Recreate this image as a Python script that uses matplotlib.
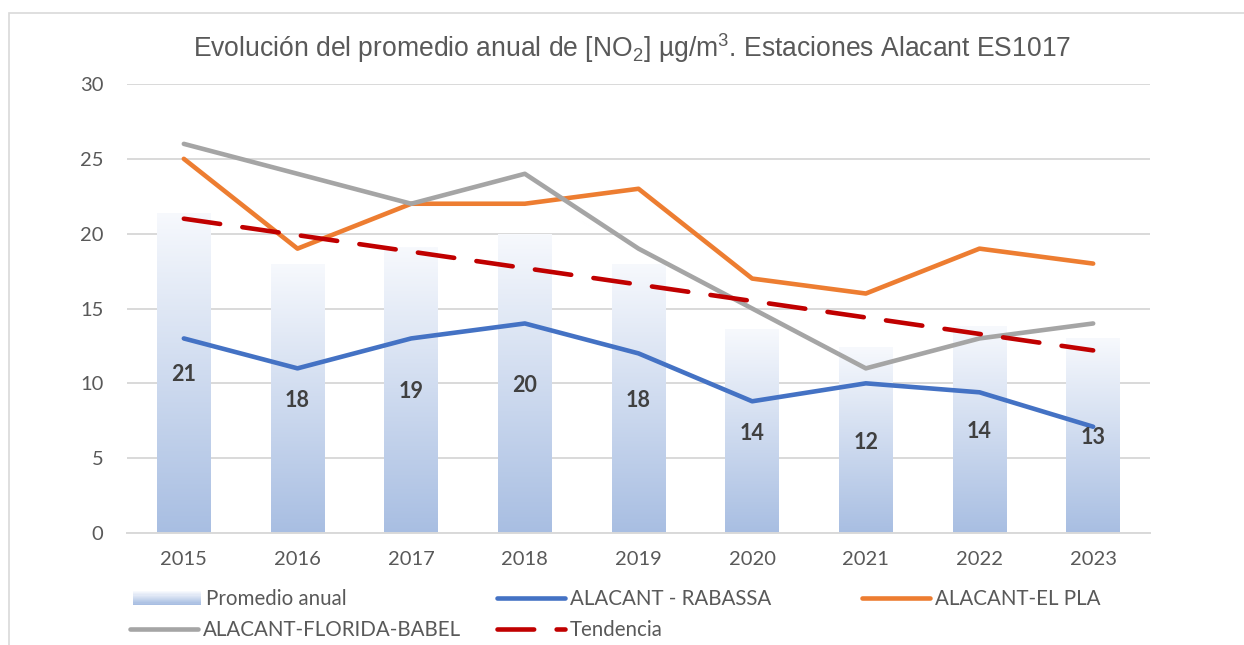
import numpy as np
import matplotlib
matplotlib.use("Agg")
import matplotlib.pyplot as plt
from matplotlib.patches import Rectangle
from matplotlib.lines import Line2D
from matplotlib.legend_handler import HandlerBase
from matplotlib.colors import LinearSegmentedColormap

years = ["2015", "2016", "2017", "2018", "2019", "2020", "2021", "2022", "2023"]
promedio = [21.4, 18.0, 19.1, 20.0, 18.0, 13.6, 12.4, 13.8, 13.0]
promedio_labels = ["21", "18", "19", "20", "18", "14", "12", "14", "13"]
rabassa = [13, 11, 13, 14, 12, 8.8, 10, 9.4, 7.1]
el_pla = [25, 19, 22, 22, 23, 17, 16, 19, 18]
florida = [26, 24, 22, 24, 19, 15, 11, 13, 14]
tendencia = [21.0, 19.9, 18.8, 17.7, 16.6, 15.5, 14.4, 13.3, 12.2]

TOP_C = "#F7F9FD"
BOT_C = "#A8BEE2"
cmap = LinearSegmentedColormap.from_list("g", [BOT_C, TOP_C])
TXT = "#595959"

plt.rcParams['mathtext.fontset'] = 'custom'
plt.rcParams['mathtext.rm'] = 'Liberation Sans'
plt.rcParams['mathtext.it'] = 'Liberation Sans'

fig = plt.figure(figsize=(12.44, 6.45), dpi=100)
# chart frame
fig.add_artist(Rectangle((9/1244, -0.1), 1.2, 1 - 13/645 + 0.1, transform=fig.transFigure,
                         fill=False, edgecolor="#D9D9D9", lw=1.2))
ax = fig.add_axes([127/1244, 1 - 533/645, (1150 - 127)/1244, (533 - 84)/645])

x = np.arange(len(years))
bars = ax.bar(x, promedio, width=0.47, facecolor="none", edgecolor="none", zorder=1)
grad = np.linspace(0, 1, 256).reshape(-1, 1)
for b in bars:
    x0, y0 = b.get_x(), b.get_y()
    w, h = b.get_width(), b.get_height()
    im = ax.imshow(grad, extent=[x0, x0 + w, y0, y0 + h], origin="lower", cmap=cmap,
                   aspect="auto", zorder=1, interpolation="bilinear")
    im.set_clip_path(b)
for xi, v, lab in zip(x, promedio, promedio_labels):
    ax.text(xi, v / 2 - 0.12, lab, ha="center", va="center", fontsize=15.5, fontweight="bold",
            color="#404040", family="Lato", zorder=5)

lw = 3.3
ax.plot(x, rabassa, color="#4472C4", lw=lw, solid_capstyle="round", solid_joinstyle="round", zorder=3)
ax.plot(x, el_pla, color="#ED7D31", lw=lw, solid_capstyle="round", solid_joinstyle="round", zorder=3)
ax.plot(x, florida, color="#A5A5A5", lw=lw, solid_capstyle="round", solid_joinstyle="round", zorder=3)
ax.plot(x, tendencia, color="#C00000", lw=lw, dashes=(8.0, 4.9), dash_capstyle="round", zorder=4)

ax.set_xlim(-0.5, len(years) - 0.5)
ax.set_ylim(0, 30)
ax.set_yticks([0, 5, 10, 15, 20, 25, 30])
ax.set_xticks(x)
ax.set_xticklabels(years)
ax.grid(axis="y", color="#D9D9D9", lw=1.4, zorder=0)
ax.set_axisbelow(True)
for s in ["top", "right", "left"]:
    ax.spines[s].set_visible(False)
ax.spines["bottom"].set_color("#D9D9D9")
ax.spines["bottom"].set_linewidth(1.4)
ax.tick_params(axis="both", length=0, labelsize=14.5, labelcolor=TXT)
ax.tick_params(axis="y", pad=17)
ax.tick_params(axis="x", pad=13)
for t in ax.get_xticklabels() + ax.get_yticklabels():
    t.set_family("Lato")

fig.text(0.5085, 1 - 48/645, r"Evolución del promedio anual de [NO$_2$] µg/m$^3$. Estaciones Alacant ES1017",
         ha="center", va="center", fontsize=19.1, color=TXT, family="Liberation Sans")


class GradHandler(HandlerBase):
    def create_artists(self, legend, orig, xd, yd, width, height, fontsize, trans):
        arts = []
        n = 12
        hh = height * 0.95
        y0 = yd + (height - hh) / 2
        for i in range(n):
            c = cmap(i / (n - 1))
            r = Rectangle((xd, y0 + hh * i / n), width, hh / n + 0.3, facecolor=c,
                          edgecolor="none", transform=trans)
            arts.append(r)
        return arts


grad_proxy = Rectangle((0, 0), 1, 1)
entries = [
    (grad_proxy, "Promedio anual", 133, 599),
    (Line2D([], [], color="#4472C4", lw=lw, solid_capstyle="round"), "ALACANT - RABASSA", 497, 599),
    (Line2D([], [], color="#ED7D31", lw=lw, solid_capstyle="round"), "ALACANT-EL PLA", 862, 599),
    (Line2D([], [], color="#A5A5A5", lw=lw, solid_capstyle="round"), "ALACANT-FLORIDA-BABEL", 130, 630),
    (Line2D([], [], color="#C00000", lw=lw, dashes=(8.0, 4.9), dash_capstyle="round"), "Tendencia", 497, 630),
]
fs = 14.8
for h, lab, px, py in entries:
    leg = fig.legend([h], [lab], loc="center left", bbox_to_anchor=(px / 1244, 1 - py / 645),
                     frameon=False, handlelength=68 / (fs * 100 / 72), handletextpad=0.25,
                     borderpad=0, borderaxespad=0, labelcolor=TXT,
                     prop={"family": "Lato", "size": fs},
                     handler_map={Rectangle: GradHandler()})

fig.savefig("out.png", dpi=100)
